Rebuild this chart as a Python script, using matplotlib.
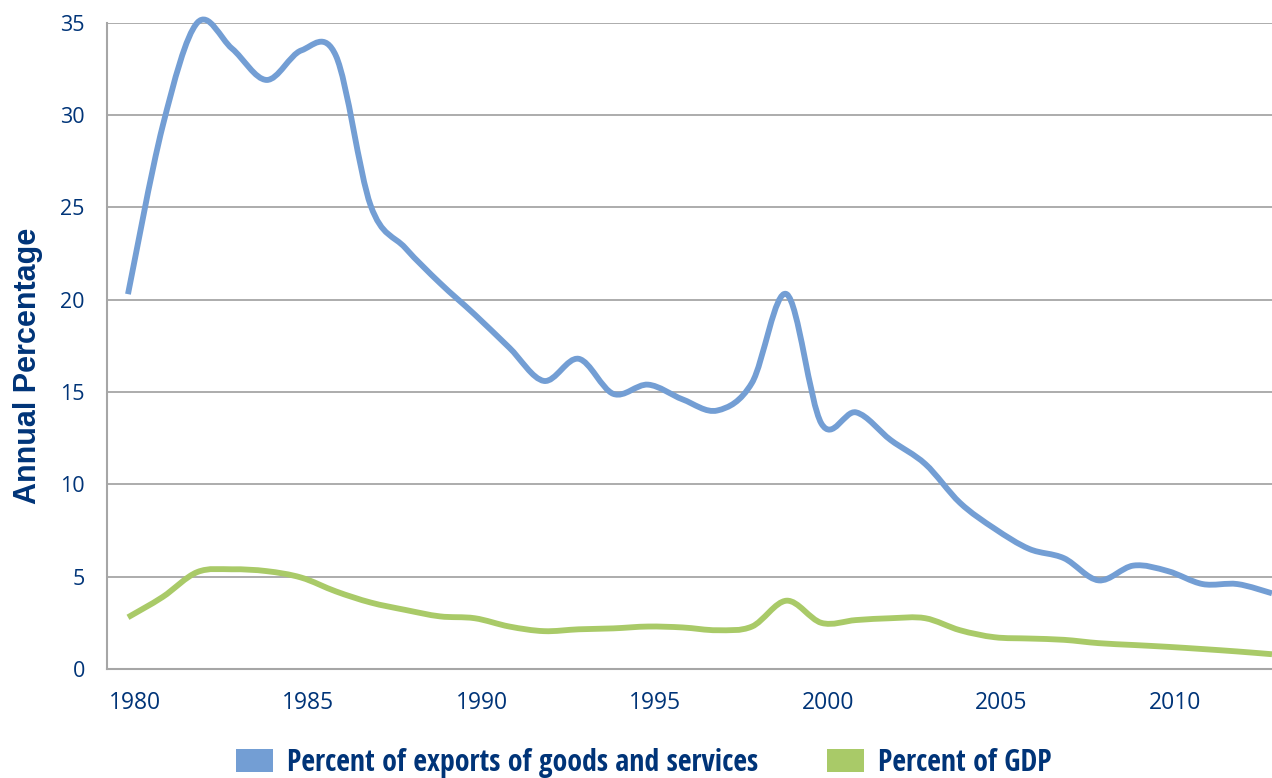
import numpy as np
import matplotlib
matplotlib.use("Agg")
import matplotlib.pyplot as plt
from matplotlib import font_manager
from matplotlib.path import Path
from matplotlib.patches import PathPatch, Patch

years = list(range(1980, 2014))
pct_exports = [20.3, 29.4, 35.0, 33.6, 31.9, 33.5, 33.2, 25.1, 22.8, 20.9,
               19.2, 17.4, 15.6, 16.8, 14.9, 15.4, 14.6, 14.0, 15.5, 20.3,
               13.3, 13.9, 12.4, 11.1, 9.0, 7.6, 6.5, 6.0, 4.8, 5.6,
               5.3, 4.6, 4.6, 4.1]
pct_gdp = [2.8, 3.9, 5.25, 5.4, 5.3, 4.95, 4.2, 3.6, 3.2, 2.85,
           2.75, 2.3, 2.05, 2.15, 2.2, 2.3, 2.25, 2.1, 2.3, 3.7,
           2.5, 2.65, 2.75, 2.75, 2.1, 1.72, 1.65, 1.58, 1.4, 1.3,
           1.2, 1.08, 0.95, 0.8]
tick_years = [1980, 1985, 1990, 1995, 2000, 2005, 2010]
series_names = ["Percent of exports of goods and services", "Percent of GDP"]
colors = ["#739ED4", "#A9CA68"]
navy = "#003478"

# legend text is a condensed bold face, use one if it is there
avail = set(f.name for f in font_manager.fontManager.ttflist)
leg_font, leg_size = "Roboto", 18.8
for name, size in [("Liberation Sans Narrow", 20.5), ("Open Sans Condensed", 21.5),
                   ("Roboto Condensed", 19.6)]:
    if name in avail:
        leg_font, leg_size = name, size
        break
em = leg_size * 100 / 72


def smooth_path(xs, ys):
    # smoothed line like the spreadsheet one (cubic bezier through each point)
    pts = np.column_stack([xs, ys]).astype(float)
    n = len(pts)
    verts = [pts[0]]
    codes = [Path.MOVETO]
    for i in range(n - 1):
        p0 = pts[max(i - 1, 0)]
        p1 = pts[i]
        p2 = pts[i + 1]
        p3 = pts[min(i + 2, n - 1)]
        verts += [p1 + (p2 - p0) / 6, p2 - (p3 - p1) / 6, p2]
        codes += [Path.CURVE4] * 3
    return Path(verts, codes)


fig = plt.figure(figsize=(12.72, 7.78), dpi=100)
ax = fig.add_axes([0.0841, 0.1401, 0.9159, 0.8307])

for vals, c in zip([pct_exports, pct_gdp], colors):
    ax.add_patch(PathPatch(smooth_path(years, vals), fill=False, edgecolor=c,
                           lw=4.2, capstyle="butt", joinstyle="round",
                           zorder=3, clip_on=False))

ax.set_xlim(1979.394, 2013)
ax.set_ylim(0, 35)
ax.set_yticks(range(0, 36, 5))
ax.set_xticks([y + 0.2 for y in tick_years])
ax.set_xticklabels([str(y) for y in tick_years])
ax.grid(axis="y", color="#A6A6A6", lw=1.3)
ax.set_axisbelow(True)
for s in ["top", "right"]:
    ax.spines[s].set_visible(False)
for s in ["left", "bottom"]:
    ax.spines[s].set_color("#A6A6A6")
    ax.spines[s].set_linewidth(1.5)

ax.tick_params(axis="x", length=0, pad=16, labelsize=16.5, labelcolor=navy)
ax.tick_params(axis="y", length=0, pad=16, labelsize=15.5, labelcolor=navy)
for lab in ax.get_xticklabels() + ax.get_yticklabels():
    lab.set_fontfamily(["Open Sans", "DejaVu Sans"])

ax.set_ylabel("Annual Percentage", fontsize=22, fontweight="bold", color=navy,
              family=["Liberation Sans", "DejaVu Sans"])
ax.yaxis.set_label_coords(-0.0549, 0.469)

handles = [Patch(facecolor=c, edgecolor="none") for c in colors]
leg = fig.legend(handles, series_names, loc="upper left",
                 bbox_to_anchor=(236 / 1272, 1 - 748 / 778), ncol=2,
                 frameon=False, borderpad=0, borderaxespad=0,
                 handlelength=37 / em, handleheight=25 / em,
                 handletextpad=14 / em, columnspacing=69 / em,
                 prop={"family": [leg_font, "DejaVu Sans"],
                       "weight": "bold", "size": leg_size})
for t in leg.get_texts():
    t.set_color(navy)

plt.savefig("out.png", dpi=100)
